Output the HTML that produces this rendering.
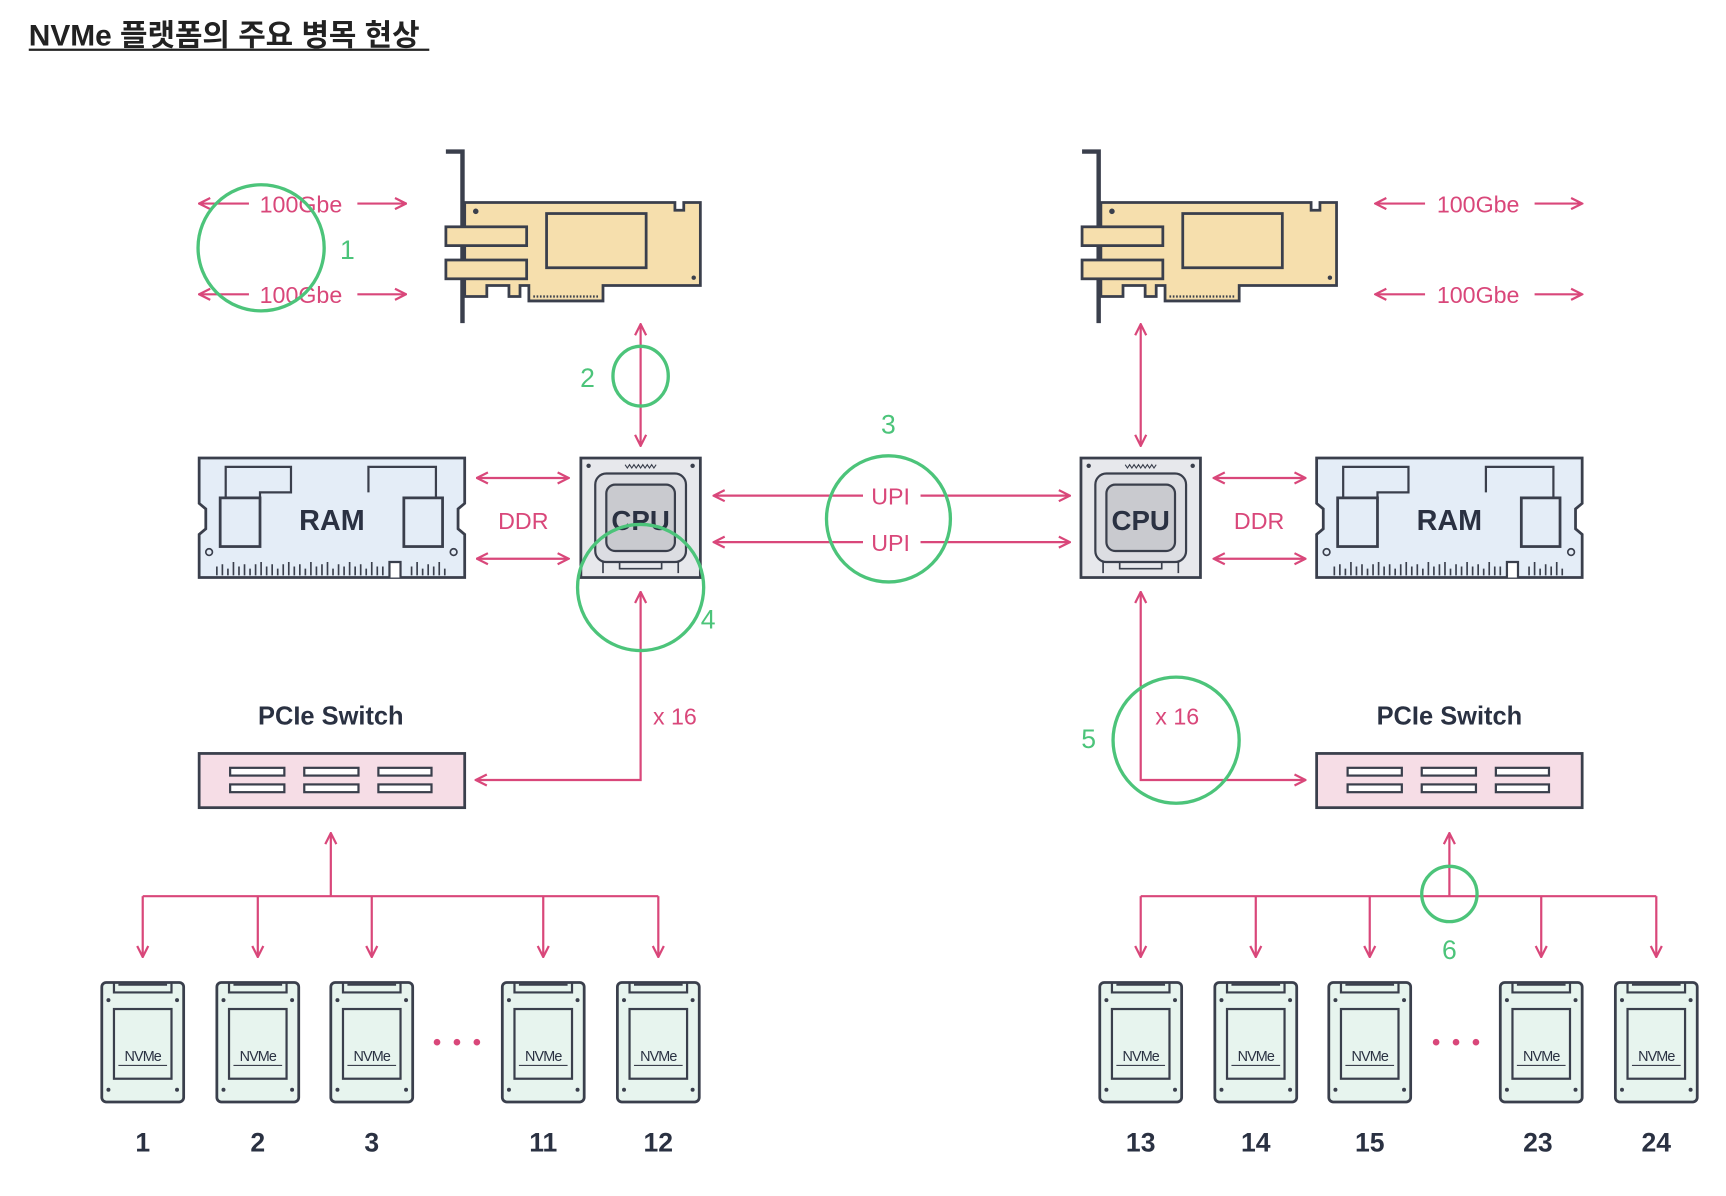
<!DOCTYPE html>
<html><head><meta charset="utf-8"><style>
html,body{margin:0;padding:0;background:#fff;}
svg{display:block;}
text{font-family:"Liberation Sans","Noto Sans CJK KR",sans-serif;}
</style></head><body>
<svg width="1726" height="1196" viewBox="0 0 1560 1081" preserveAspectRatio="none" xmlns="http://www.w3.org/2000/svg">
<defs>
<marker id="ah" viewBox="0 0 12 12" refX="11" refY="6" markerWidth="12" markerHeight="12" markerUnits="userSpaceOnUse" orient="auto-start-reverse">
<path d="M1,1 L11,6 L1,11" fill="none" stroke="#d9477a" stroke-width="2"/>
</marker>
<g id="nic">
<path d="M403,137 L418,137 L418,292" fill="none" stroke="#3a3f4c" stroke-width="4"/>
<path d="M420,183 L610,183 L610,190 L618,190 L618,183 L633,183 L633,258 L545,258 L545,272 L478,272 L478,258 L470,258 L470,268 L460,268 L460,258 L440,258 L440,268 L420,268 Z" fill="#f6dfad" stroke="#3a3f4c" stroke-width="2.5"/>
<rect x="403" y="205" width="73" height="17" fill="#f6dfad" stroke="#3a3f4c" stroke-width="2.5"/>
<rect x="403" y="235" width="73" height="17" fill="#f6dfad" stroke="#3a3f4c" stroke-width="2.5"/>
<rect x="494" y="193" width="90" height="49" fill="#f6dfad" stroke="#3a3f4c" stroke-width="2.5"/>
<circle cx="430" cy="191" r="2.5" fill="#3a3f4c"/><circle cx="627" cy="251" r="2" fill="#3a3f4c"/>
<line x1="482" y1="268" x2="542" y2="268" stroke="#3a3f4c" stroke-width="2" stroke-dasharray="1.5 1.5"/>
</g>
<g id="ram">
<path d="M180,414 L420,414 L420,455 L414,460 L414,478 L420,483 L420,522 L180,522 L180,483 L186,478 L186,460 L180,455 Z" fill="#e4edf7" stroke="#3a3f4c" stroke-width="2.5"/>
<path d="M204,455 L204,422 L263,422 L263,445 L235,445 L235,455" fill="none" stroke="#3a3f4c" stroke-width="2"/>
<path d="M333,445 L333,422 L394,422 L394,450 L365,450 L365,455" fill="none" stroke="#3a3f4c" stroke-width="2"/>
<rect x="199" y="450" width="36" height="44" fill="#e4edf7" stroke="#3a3f4c" stroke-width="2.5"/>
<rect x="365" y="450" width="35" height="44" fill="#e4edf7" stroke="#3a3f4c" stroke-width="2.5"/>
<circle cx="189" cy="499" r="3" fill="none" stroke="#3a3f4c" stroke-width="1.5"/><circle cx="410" cy="499" r="3" fill="none" stroke="#3a3f4c" stroke-width="1.5"/>
<path d="M196,520 L196,512 M201,520 L201,510 M206,520 L206,514 M211,520 L211,508 M216,520 L216,512 M221,520 L221,510 M226,520 L226,514 M231,520 L231,510 M236,520 L236,508 M241,520 L241,512 M246,520 L246,510 M251,520 L251,514 M256,520 L256,510 M261,520 L261,508 M266,520 L266,512 M271,520 L271,510 M276,520 L276,514 M281,520 L281,508 M286,520 L286,512 M291,520 L291,510 M296,520 L296,508 M301,520 L301,514 M306,520 L306,510 M311,520 L311,512 M316,520 L316,508 M321,520 L321,512 M326,520 L326,510 M331,520 L331,514 M336,520 L336,508 M341,520 L341,512 M346,520 L346,512 M372,520 L372,512 M377,520 L377,508 M382,520 L382,514 M387,520 L387,510 M392,520 L392,512 M397,520 L397,508 M402,520 L402,514" stroke="#3a3f4c" stroke-width="1.5"/>
<path d="M352,522 L352,508 L362,508 L362,522" fill="#fff" stroke="#3a3f4c" stroke-width="2"/>
<text x="300" y="479" text-anchor="middle" font-size="26" font-weight="bold" fill="#2a3142">RAM</text>
</g>
<g id="cpu">
<rect x="525" y="414" width="108" height="108" fill="#e7e8ec" stroke="#3a3f4c" stroke-width="2.5"/>
<rect x="538" y="428" width="82" height="80" rx="10" fill="#dcdde2" stroke="#3a3f4c" stroke-width="2"/>
<rect x="548" y="438" width="62" height="60" rx="8" fill="#c9cacf" stroke="#3a3f4c" stroke-width="2"/>
<path d="M545,508 L545,518 M613,508 L613,518 M560,508 L560,514 L598,514 L598,508" fill="none" stroke="#3a3f4c" stroke-width="1.5"/>
<path d="M565,420 l2,3 l2,-3 l2,3 l2,-3 l2,3 l2,-3 l2,3 l2,-3 l2,3 l2,-3 l2,3 l2,-3 l2,3 l2,-3" fill="none" stroke="#3a3f4c" stroke-width="1"/>
<circle cx="532" cy="421" r="2" fill="#3a3f4c"/><circle cx="626" cy="421" r="2" fill="#3a3f4c"/>
<text x="579" y="479" text-anchor="middle" font-size="25" font-weight="bold" fill="#2a3142">CPU</text>
</g>
<g id="sw">
<rect x="180" y="681" width="240" height="49" fill="#f6dde6" stroke="#3a3f4c" stroke-width="2.5"/>
<g fill="#fff" stroke="#3a3f4c" stroke-width="2">
<rect x="208" y="694" width="49" height="7"/><rect x="208" y="709" width="49" height="7"/>
<rect x="275" y="694" width="49" height="7"/><rect x="275" y="709" width="49" height="7"/>
<rect x="342" y="694" width="48" height="7"/><rect x="342" y="709" width="48" height="7"/>
</g>
</g>
<g id="ssd">
<rect x="-37" y="888" width="74" height="108" rx="4" fill="#e7f4ee" stroke="#3a3f4c" stroke-width="2.5"/>
<path d="M-26,888 L-26,897 L26,897 L26,888 M-22,890 L22,890" fill="none" stroke="#3a3f4c" stroke-width="2"/>
<rect x="-26" y="912" width="52" height="63" fill="#e7f4ee" stroke="#3a3f4c" stroke-width="2"/>
<circle cx="-31" cy="904" r="1.8" fill="#3a3f4c"/><circle cx="31" cy="904" r="1.8" fill="#3a3f4c"/>
<circle cx="-31" cy="985" r="1.8" fill="#3a3f4c"/><circle cx="31" cy="985" r="1.8" fill="#3a3f4c"/>
<text x="0" y="959" text-anchor="middle" font-size="13" fill="#2a3142" letter-spacing="-0.8">NVMe</text>
<line x1="-22" y1="963" x2="22" y2="963" stroke="#3a3f4c" stroke-width="1"/>
</g>
</defs>

<text x="26" y="41" font-size="27" font-weight="bold" fill="#222">NVMe 플랫폼의 주요 병목 현상</text>
<line x1="26" y1="45" x2="388" y2="45" stroke="#222" stroke-width="2"/>

<use href="#nic"/>
<use href="#nic" transform="translate(575,0)"/>
<use href="#ram"/>
<use href="#ram" transform="translate(1010,0)"/>
<use href="#cpu"/>
<use href="#cpu" transform="translate(452,0)"/>
<use href="#sw"/>
<use href="#sw" transform="translate(1010,0)"/>

<g fill="none" stroke="#d9477a" stroke-width="2" marker-end="url(#ah)">
<line x1="225" y1="184" x2="180" y2="184"/><line x1="323" y1="184" x2="367" y2="184"/>
<line x1="225" y1="266" x2="180" y2="266"/><line x1="323" y1="266" x2="367" y2="266"/>
<line x1="1288" y1="184" x2="1243" y2="184"/><line x1="1387" y1="184" x2="1430" y2="184"/>
<line x1="1288" y1="266" x2="1243" y2="266"/><line x1="1387" y1="266" x2="1430" y2="266"/>
<line x1="579" y1="293" x2="579" y2="403" marker-start="url(#ah)"/>
<line x1="1031" y1="293" x2="1031" y2="403" marker-start="url(#ah)"/>
<line x1="431" y1="432" x2="514" y2="432" marker-start="url(#ah)"/>
<line x1="431" y1="505" x2="514" y2="505" marker-start="url(#ah)"/>
<line x1="1097" y1="432" x2="1180" y2="432" marker-start="url(#ah)"/>
<line x1="1097" y1="505" x2="1180" y2="505" marker-start="url(#ah)"/>
<line x1="780" y1="448" x2="645" y2="448"/><line x1="832" y1="448" x2="967" y2="448"/>
<line x1="780" y1="490" x2="645" y2="490"/><line x1="832" y1="490" x2="967" y2="490"/>
<polyline points="430,705 579,705 579,535" marker-start="url(#ah)"/>
<polyline points="1031,535 1031,705 1180,705" marker-start="url(#ah)"/>
<line x1="299" y1="810" x2="299" y2="753"/>
<line x1="1310" y1="810" x2="1310" y2="753"/>
</g>
<g fill="none" stroke="#d9477a" stroke-width="2">
<line x1="129" y1="810" x2="595" y2="810"/>
<line x1="1031" y1="810" x2="1497" y2="810"/>
<g marker-end="url(#ah)">
<line x1="129" y1="810" x2="129" y2="865"/><line x1="233" y1="810" x2="233" y2="865"/><line x1="336" y1="810" x2="336" y2="865"/><line x1="491" y1="810" x2="491" y2="865"/><line x1="595" y1="810" x2="595" y2="865"/>
<line x1="1031" y1="810" x2="1031" y2="865"/><line x1="1135" y1="810" x2="1135" y2="865"/><line x1="1238" y1="810" x2="1238" y2="865"/><line x1="1393" y1="810" x2="1393" y2="865"/><line x1="1497" y1="810" x2="1497" y2="865"/>
</g>
</g>

<g fill="#d9477a" font-size="21" text-anchor="middle">
<text x="272" y="192">100Gbe</text><text x="272" y="274">100Gbe</text>
<text x="1336" y="192">100Gbe</text><text x="1336" y="274">100Gbe</text>
<text x="473" y="478">DDR</text><text x="1138" y="478">DDR</text>
<text x="805" y="456">UPI</text><text x="805" y="498">UPI</text>
<text x="610" y="655">x 16</text><text x="1064" y="655">x 16</text>
</g>
<g fill="#d9477a"><circle cx="395" cy="942" r="3"/><circle cx="413" cy="942" r="3"/><circle cx="431" cy="942" r="3"/>
<circle cx="1298" cy="942" r="3"/><circle cx="1316" cy="942" r="3"/><circle cx="1334" cy="942" r="3"/></g>

<text x="299" y="655" text-anchor="middle" font-size="23" font-weight="bold" fill="#2a3142">PCIe Switch</text>
<text x="1310" y="655" text-anchor="middle" font-size="23" font-weight="bold" fill="#2a3142">PCIe Switch</text>

<use href="#ssd" transform="translate(129,0)"/><use href="#ssd" transform="translate(233,0)"/><use href="#ssd" transform="translate(336,0)"/><use href="#ssd" transform="translate(491,0)"/><use href="#ssd" transform="translate(595,0)"/>
<use href="#ssd" transform="translate(1031,0)"/><use href="#ssd" transform="translate(1135,0)"/><use href="#ssd" transform="translate(1238,0)"/><use href="#ssd" transform="translate(1393,0)"/><use href="#ssd" transform="translate(1497,0)"/>

<g font-size="24" font-weight="bold" fill="#2a3142" text-anchor="middle">
<text x="129" y="1041">1</text><text x="233" y="1041">2</text><text x="336" y="1041">3</text><text x="491" y="1041">11</text><text x="595" y="1041">12</text>
<text x="1031" y="1041">13</text><text x="1135" y="1041">14</text><text x="1238" y="1041">15</text><text x="1390" y="1041">23</text><text x="1497" y="1041">24</text>
</g>

<g fill="none" stroke="#4cc47a" stroke-width="3">
<ellipse cx="236" cy="224" rx="57" ry="57"/>
<ellipse cx="579" cy="340" rx="25" ry="27"/>
<ellipse cx="803" cy="469" rx="56" ry="57"/>
<ellipse cx="579" cy="531" rx="57" ry="57"/>
<ellipse cx="1063" cy="669" rx="57" ry="57"/>
<ellipse cx="1310" cy="808" rx="25" ry="25"/>
</g>
<g fill="#4cc47a" font-size="24" text-anchor="middle">
<text x="314" y="234">1</text><text x="531" y="350">2</text><text x="803" y="392">3</text><text x="640" y="568">4</text><text x="984" y="676">5</text><text x="1310" y="867">6</text>
</g>
</svg>
</body></html>
